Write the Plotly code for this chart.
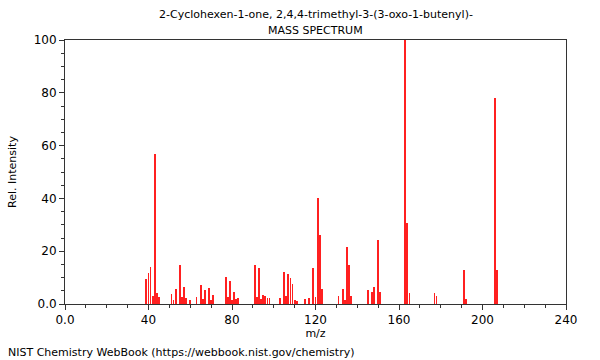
import plotly.graph_objects as go

mz = [39, 40, 41, 42, 43, 44, 45,
      51, 52, 53, 55, 56, 57, 58, 60, 63, 65, 66, 67, 69, 70, 71,
      77, 78, 79, 80, 81, 82, 83,
      91, 92, 93, 94, 95, 96, 97, 98, 103, 105, 106, 107, 108, 109, 110, 111,
      115, 117, 119, 120, 121, 122, 123, 131, 133, 134, 135, 136, 137,
      145, 147, 148, 150, 151, 163, 164, 165, 177, 178, 191, 192, 206, 207]
intensity = [9.6, 11.7, 14.1, 3.1, 56.8, 4.3, 2.5,
             3.8, 1.6, 5.7, 14.6, 2.8, 6.6, 2.3, 1.6, 2.7, 7.2, 1.9, 5.2, 6.1, 1.5, 3.4,
             10.1, 2.5, 8.7, 1.6, 4.4, 1.9, 2.3,
             14.8, 2.8, 13.6, 1.8, 3.4, 2.9, 2.3, 2.3, 2.1, 12.1, 3.0, 11.4, 10.0, 7.6, 1.5, 1.1,
             1.9, 2.3, 13.6, 2.8, 40.0, 26.1, 5.7, 2.9, 5.8, 1.5, 21.5, 14.6, 3.0,
             5.4, 4.4, 6.3, 24.1, 4.4, 100.0, 30.8, 4.3, 4.0, 3.0, 12.9, 1.8, 78.0, 12.9]

x_ticks = [0, 40, 80, 120, 160, 200, 240]
x_tick_labels = ["0.0", "40", "80", "120", "160", "200", "240"]
y_ticks = [0, 20, 40, 60, 80, 100]
y_tick_labels = ["0.0", "20", "40", "60", "80", "100"]

font = "DejaVu Sans, Verdana, sans-serif"

fig = go.Figure(go.Bar(x=mz, y=intensity, width=0.4,
                       marker=dict(color="#ff2020", line=dict(width=0))))

fig.update_layout(
    width=600, height=360,
    margin=dict(l=62, r=34, t=40, b=56),
    paper_bgcolor="white", plot_bgcolor="white",
    font=dict(family=font, size=11, color="black"),
    showlegend=False,
    bargap=0,
)
fig.add_annotation(text="2-Cyclohexen-1-one, 2,4,4-trimethyl-3-(3-oxo-1-butenyl)-",
                   xref="paper", yref="paper", x=0.5, y=1, yshift=26,
                   showarrow=False, font=dict(size=11), xanchor="center", yanchor="middle")
fig.add_annotation(text="MASS SPECTRUM",
                   xref="paper", yref="paper", x=0.5, y=1, yshift=10,
                   showarrow=False, font=dict(size=11), xanchor="center", yanchor="middle")
fig.add_annotation(text="NIST Chemistry WebBook (https://webbook.nist.gov/chemistry)",
                   xref="paper", yref="paper", x=0, xshift=-59, y=0, yshift=-48,
                   showarrow=False, font=dict(size=11), xanchor="left", yanchor="middle")

fig.update_xaxes(
    range=[0, 240], tickvals=x_ticks, ticktext=x_tick_labels,
    ticks="outside", ticklen=5, tickcolor="#333", tickwidth=1,
    minor=dict(dtick=10, ticks="outside", ticklen=3, tickcolor="#333", showgrid=False),
    showline=True, linecolor="#333", linewidth=1, mirror=True,
    showgrid=False, zeroline=False,
    title=dict(text="m/z", font=dict(size=11), standoff=2),
    tickfont=dict(size=12),
)
fig.update_yaxes(
    range=[0, 100], tickvals=y_ticks, ticktext=y_tick_labels,
    ticks="outside", ticklen=5, tickcolor="#333", tickwidth=1,
    minor=dict(dtick=5, ticks="outside", ticklen=3, tickcolor="#333", showgrid=False),
    showline=True, linecolor="#333", linewidth=1, mirror=True,
    showgrid=False, zeroline=False,
    title=dict(text="Rel. Intensity", font=dict(size=11), standoff=14),
    tickfont=dict(size=12),
)

fig.write_html("out.html", post_script="document.body.style.margin='0';",
               config={"displayModeBar": False})
